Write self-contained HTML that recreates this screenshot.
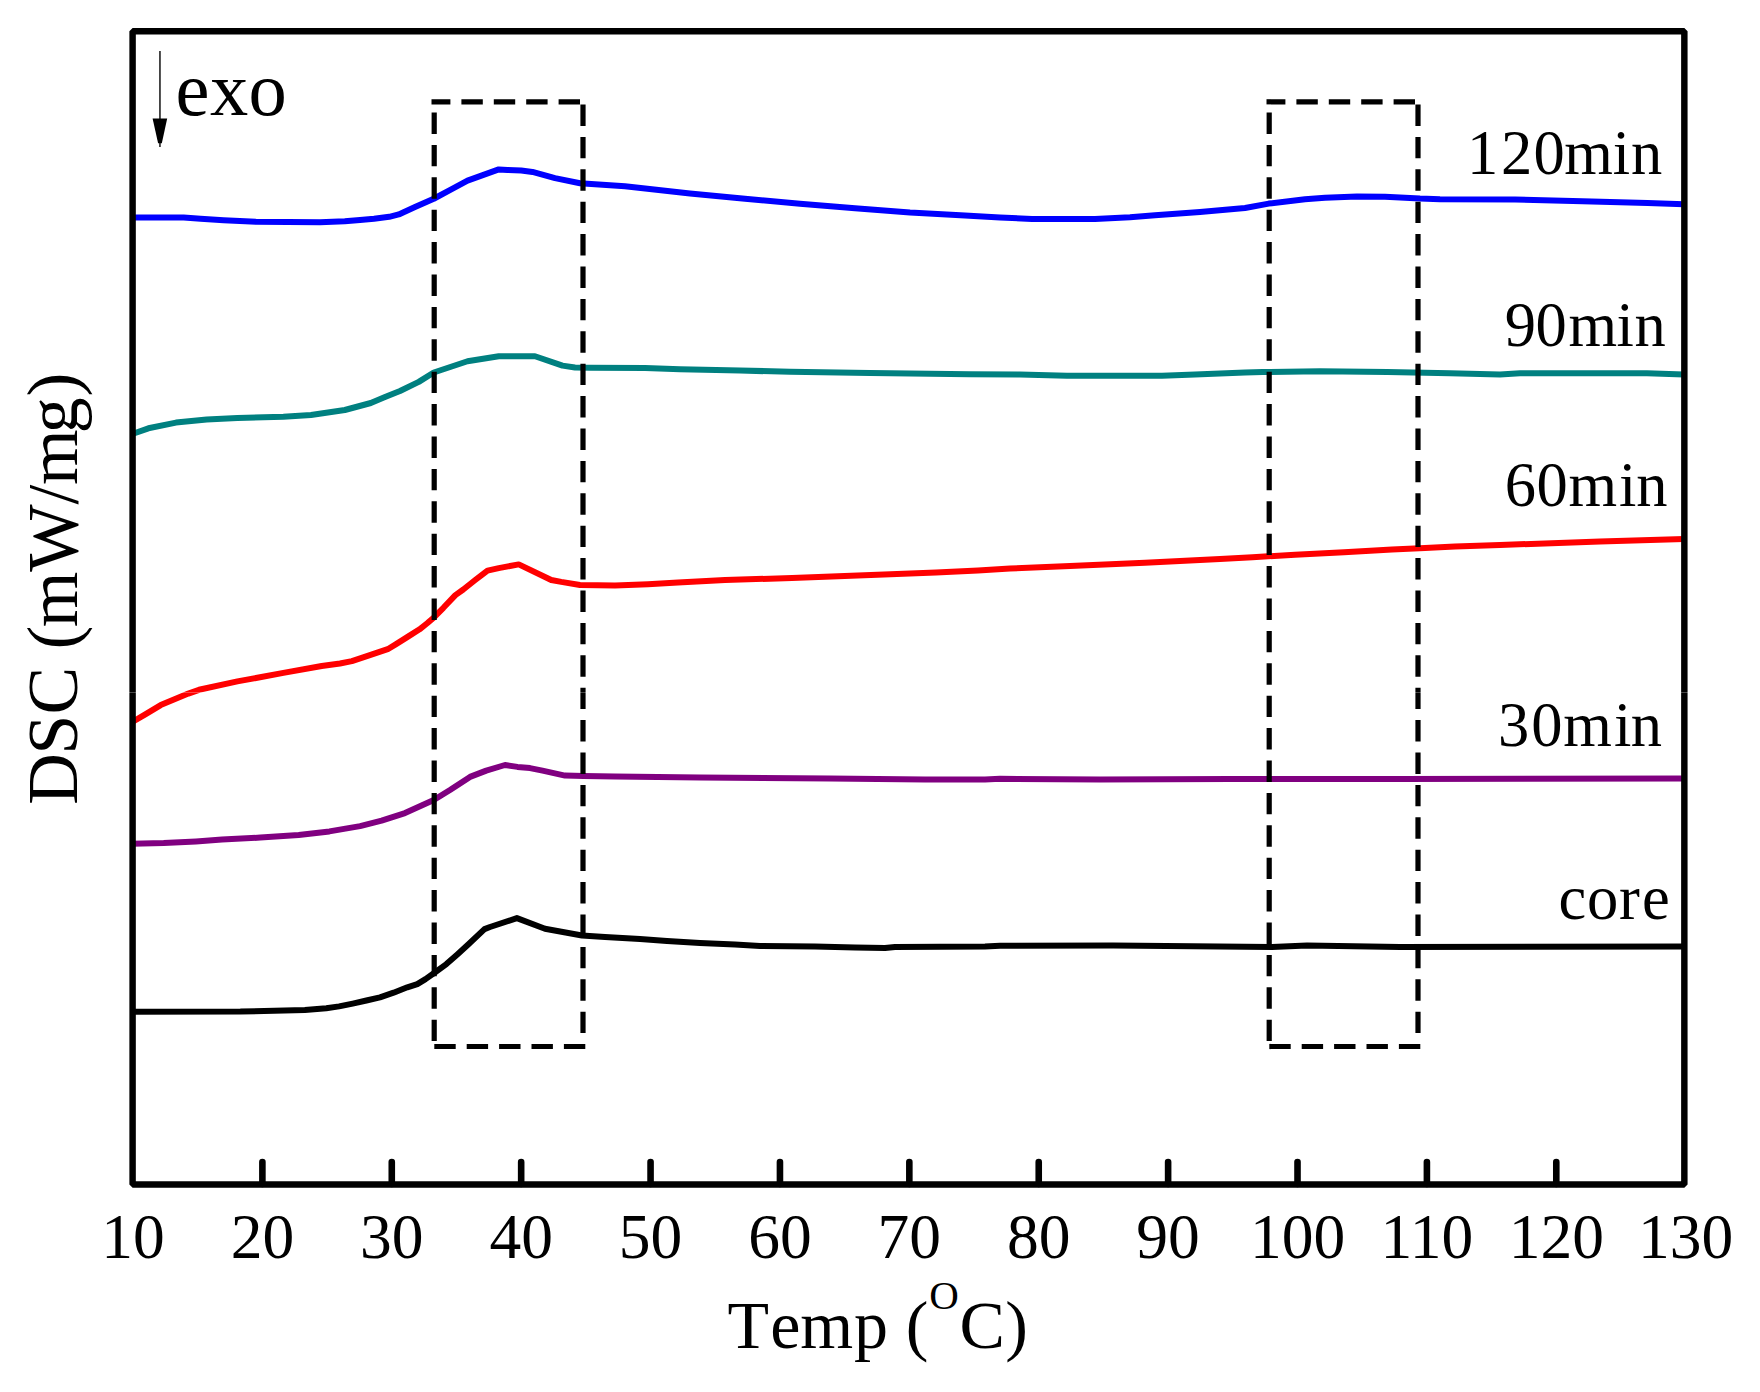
<!DOCTYPE html>
<html><head><meta charset="utf-8"><style>
html,body{margin:0;padding:0;background:#fff;}
svg{display:block;}
text{font-family:"Liberation Serif", "Times New Roman", serif;fill:#000;}
</style></head><body>
<svg width="1760" height="1392" viewBox="0 0 1760 1392">
<rect x="0" y="0" width="1760" height="1392" fill="#fff"/>
<g fill="none" stroke-width="6" stroke-linejoin="round" stroke-linecap="butt">
<polyline stroke="#0000ff" points="132.5,217.6 183.7,217.6 200.6,218.8 223.6,220.2 256,221.8 320,222.2 344.8,221.2 360,219.9 374,218.7 389.2,216.8 398.75,214.4 415,207 433.75,198.75 451.25,189.4 467.5,180.6 498.75,169.4 507.5,170 521.25,170.6 532.5,171.9 555,178.1 580,183.3 625,186.3 690,193.5 745,198.75 800,203.75 855,208.25 910,212.5 965,215.5 1000,217.5 1032,219 1095,219 1130,217.3 1155,215.3 1200,212 1245,208 1268.75,203.6 1305,199.2 1325,197.8 1357,196.5 1385,196.7 1420,198.6 1440,199.2 1515,199.6 1582.5,201.25 1647.5,203 1684,204.25"/>
<polyline stroke="#008080" points="132.3,434 148.4,428.3 176,422.6 206.7,419.6 237.4,418 283.4,416.8 311,415 344.8,410 370.8,403 385,397 400,391 418.75,381.9 433.75,372.5 467.5,361.25 498.75,356.25 535,356.25 562.5,365.6 575,367.5 590,367.8 645,368 680,369.2 740,370.5 790,371.8 870,373 970,374.3 1020,374.6 1067,375.75 1162,375.75 1195,374.5 1245,372.5 1262.5,372 1320,371.25 1387.5,372 1450,373.25 1500,374.5 1520,373.25 1647,373.25 1684,374.5"/>
<polyline stroke="#ff0000" points="132.3,722 145.3,714.3 160.7,705.1 188.3,693.6 199,689.8 237.4,681.4 283.4,672.9 321.7,666 340,663.5 351.9,661.1 363.9,657.2 375.8,653.2 387.7,649.2 395.7,644.4 407.6,636.9 419.6,629.3 427.5,623 433.9,617.4 443.4,607.8 455.4,595.1 463.3,589.5 475.2,580 487.5,570.6 498.75,568.1 518.75,564.4 551.25,580 561.25,581.9 580,585 615,585.6 648,584.2 678,582.5 725,580 792,578 838,576.2 884,574.5 936,572.5 978,570.5 1010,568.5 1070,566 1145,562.7 1220,559 1252.5,557.2 1295,554.8 1344,552.2 1392,549.4 1425,548 1455,546.5 1500,545 1600,541.5 1684,539"/>
<polyline stroke="#800080" points="132.3,843.7 163.7,843 196,841.4 222,839.6 260.4,837.6 298.7,835 329.4,831.4 360.1,826.1 381.6,820.7 405,813.1 433.75,800 450,790 470,776.9 486.25,770.6 505,765 517.5,766.9 530,768.1 542.5,770.6 565,775.6 583.75,776 615,776.6 700,777.5 830,778.5 925,779.5 985,779.5 1000,778.8 1100,779.5 1230,779 1400,779 1684,778.5"/>
<polyline stroke="#000000" points="132.5,1011.8 240.4,1011.6 304.9,1010 326.3,1008.3 339.1,1006.4 352.7,1003.6 366.4,1000.5 380,997.3 393.6,992.7 407.3,987.3 417.3,984.1 425.5,979.1 434.5,972.7 446.4,964.1 457.3,954.5 468.2,944.5 484.5,929.1 490,927 516.9,918.1 545,928.75 582,935.5 605,937 640,939 667,941 700,943 735,944.5 760,946 815,946.5 855,947.5 885,948 895,947 985,946.5 1000,945.7 1113,945.5 1272,947 1307,945.5 1400,947 1684,946.5"/>
</g>
<g stroke="#000" stroke-width="5.2" stroke-dasharray="21.4 11" fill="none">
<line x1="434.2" y1="112.5" x2="434.2" y2="1041.2"/><line x1="431.5" y1="101.8" x2="580.4" y2="101.8" stroke-dashoffset="2.5"/><line x1="583" y1="104.5" x2="583" y2="1033.2"/><line x1="434.3" y1="1046.5" x2="585.8" y2="1046.5"/>
<line x1="1269.2" y1="112.5" x2="1269.2" y2="1041.2"/><line x1="1266.5" y1="101.8" x2="1415.4" y2="101.8" stroke-dashoffset="2.5"/><line x1="1418" y1="104.5" x2="1418" y2="1033.2"/><line x1="1269.3" y1="1046.5" x2="1420.8" y2="1046.5"/>
</g>
<rect x="132.6" y="31.3" width="1551.75" height="1153.1" fill="none" stroke="#000" stroke-width="6.45" stroke-linejoin="bevel"/>
<g stroke="#000" stroke-width="6.6" stroke-linecap="round"><line x1="262.39" y1="1184" x2="262.39" y2="1162"/><line x1="391.78" y1="1184" x2="391.78" y2="1162"/><line x1="521.17" y1="1184" x2="521.17" y2="1162"/><line x1="650.56" y1="1184" x2="650.56" y2="1162"/><line x1="779.95" y1="1184" x2="779.95" y2="1162"/><line x1="909.34" y1="1184" x2="909.34" y2="1162"/><line x1="1038.73" y1="1184" x2="1038.73" y2="1162"/><line x1="1168.12" y1="1184" x2="1168.12" y2="1162"/><line x1="1297.51" y1="1184" x2="1297.51" y2="1162"/><line x1="1426.90" y1="1184" x2="1426.90" y2="1162"/><line x1="1556.29" y1="1184" x2="1556.29" y2="1162"/></g>
<g font-size="63.5" text-anchor="middle"><text x="133.00" y="1257.5">10</text><text x="262.39" y="1257.5">20</text><text x="391.78" y="1257.5">30</text><text x="521.17" y="1257.5">40</text><text x="650.56" y="1257.5">50</text><text x="779.95" y="1257.5">60</text><text x="909.34" y="1257.5">70</text><text x="1038.73" y="1257.5">80</text><text x="1168.12" y="1257.5">90</text><text x="1297.51" y="1257.5">100</text><text x="1426.90" y="1257.5">110</text><text x="1556.29" y="1257.5">120</text><text x="1685.68" y="1257.5">130</text></g>
<line x1="159.95" y1="51" x2="159.95" y2="147" stroke="#222" stroke-width="1.6"/>
<polygon points="152.6,118.6 167.2,118.6 161.8,143.2 158.1,143.2" fill="#000"/>
<text x="175.60 210.11 248.38" y="115.2" font-size="76.5">exo</text>
<text x="1466.96 1501.03 1533.47 1564.32 1612.86 1631.08" y="174.3" font-size="62.5">120min</text>
<text x="1504.75 1535.62 1568.47 1616.61 1634.58" y="346.4" font-size="62.5">90min</text>
<text x="1504.81 1536.42 1568.47 1618.96 1636.13" y="505.6" font-size="62.5">60min</text>
<text x="1497.90 1531.17 1563.17 1613.96 1630.83" y="746.1" font-size="62.5">30min</text>
<text x="1558.55 1587.03 1618.94 1641.94" y="918.8" font-size="62.5">core</text>
<rect x="128" y="692" width="1572" height="1" fill="#fff" fill-opacity="0.28"/>
<text x="727.38 770.21 800.22 853.98 887.98 905.78" y="1347.5" font-size="68">Temp (</text><text x="929.30" y="1309.1" font-size="41">O</text><text x="959.40 1005.23" y="1347.5" font-size="68">C)</text>
<text x="-804.82 -754.41 -714.59 -666.90 -649.42 -627.20 -571.81 -504.38 -485.10 -433.18 -396.39" y="77.0" font-size="71.5" transform="rotate(-90)">DSC (mW/mg)</text>
</svg>
</body></html>
